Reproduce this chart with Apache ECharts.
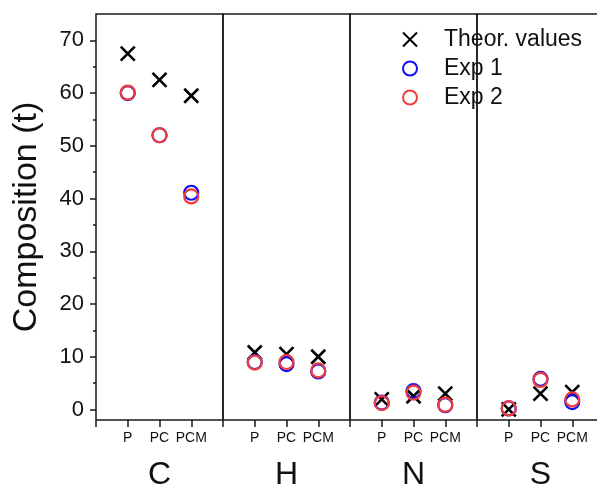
<!DOCTYPE html>
<html>
<head>
<meta charset="utf-8">
<script src="https://cdn.jsdelivr.net/npm/echarts@6/dist/echarts.min.js"></script>
<style>
html,body{margin:0;padding:0;background:#fff;}
#chart{width:597px;height:488px;}
</style>
</head>
<body>
<div id="chart"></div>
<script>
// ---- data ----
const panels = ['C', 'H', 'N', 'S'];
const categories = ['P', 'PC', 'PCM'];
const theorC = [67.5, 62.5, 59.5];
const theorH = [10.8, 10.5, 10.0];
const theorN = [1.9, 2.5, 3.0];
const theorS = [0.0, 3.0, 3.3];
const exp1C = [60.0, 52.0, 41.1];
const exp1H = [9.0, 8.6, 7.2];
const exp1N = [1.3, 3.5, 0.8];
const exp1S = [0.2, 5.8, 1.4];
const exp2C = [60.1, 52.0, 40.4];
const exp2H = [8.9, 9.0, 7.4];
const exp2N = [1.2, 3.2, 0.9];
const exp2S = [0.2, 5.6, 1.9];
const yTicks = [0, 10, 20, 30, 40, 50, 60, 70];
const yMinorTicks = [5, 15, 25, 35, 45, 55, 65];

const theor = [theorC, theorH, theorN, theorS];
const exp1 = [exp1C, exp1H, exp1N, exp1S];
const exp2 = [exp2C, exp2H, exp2N, exp2S];

const FONT = 'Liberation Sans, Arial, sans-serif';
const AX = '#1a1a1a';
const crossPath = 'path://M0,0L10,10M10,0L0,10';

const left0 = 96, panelW = 127, top0 = 14, plotH = 406;
const yMin = -2, yMax = 75;

const grids = [], xAxes = [], yAxes = [], series = [];
panels.forEach((p, g) => {
  grids.push({
    left: left0 + panelW * g, top: top0, width: panelW, height: plotH,
    outerBoundsMode: 'none', containLabel: false,
    show: true, borderColor: AX, borderWidth: 1.5, backgroundColor: 'transparent'
  });
  xAxes.push({
    type: 'category', gridIndex: g, boundaryGap: false, position: 'bottom',
    data: [''].concat(categories, ['']),
    axisLine: { show: false, onZero: false },
    axisTick: { show: true, length: 7, interval: 0, lineStyle: { color: AX, width: 1.5 } },
    axisLabel: { interval: 0, margin: 11, fontSize: 14, color: '#111', fontFamily: FONT },
    splitLine: { show: false },
    name: p, nameLocation: 'middle', nameGap: 39,
    nameTextStyle: { fontSize: 32, color: '#111', fontFamily: FONT }
  });
  yAxes.push({
    type: 'value', gridIndex: g, min: yMin, max: yMax, position: 'left',
    axisLine: { show: false, onZero: false },
    axisTick: { show: g === 0, inside: false, length: 6, customValues: yTicks, lineStyle: { color: AX, width: 1.5 } },
    axisLabel: { show: g === 0, customValues: yTicks, margin: 12, fontSize: 22, color: '#111', fontFamily: FONT },
    splitLine: { show: false },
    name: g === 0 ? 'Composition (t)' : '', nameLocation: 'middle', nameGap: 52,
    nameTextStyle: { fontSize: 34, color: '#111', fontFamily: FONT }
  });
  const mk = (vals) => categories.map((c, i) => [c, vals[i]]);
  series.push({
    name: 'Theor. values', type: 'scatter', xAxisIndex: g, yAxisIndex: g,
    symbol: crossPath, symbolSize: 14, data: mk(theor[g]),
    itemStyle: { color: 'transparent', borderColor: '#000', borderWidth: 2.6, opacity: 1 },
    emphasis: { disabled: true }, z: 2
  });
  series.push({
    name: 'Exp 1', type: 'scatter', xAxisIndex: g, yAxisIndex: g,
    symbol: 'circle', symbolSize: 14, data: mk(exp1[g]),
    itemStyle: { color: 'transparent', borderColor: '#1010f0', borderWidth: 2.2, opacity: 1 },
    emphasis: { disabled: true }, z: 3
  });
  series.push({
    name: 'Exp 2', type: 'scatter', xAxisIndex: g, yAxisIndex: g,
    symbol: 'circle', symbolSize: 14, data: mk(exp2[g]),
    itemStyle: { color: 'transparent', borderColor: '#f03c3c', borderWidth: 2.2, opacity: 1 },
    emphasis: { disabled: true }, z: 4
  });
});
// minor ticks on first panel
yAxes.push({
  type: 'value', gridIndex: 0, min: yMin, max: yMax, position: 'left',
  axisLine: { show: false, onZero: false },
  axisTick: { show: true, length: 3, customValues: yMinorTicks, lineStyle: { color: AX, width: 1.5 } },
  axisLabel: { show: false }, splitLine: { show: false }
});

const chart = echarts.init(document.getElementById('chart'), null, { renderer: 'canvas' });
chart.setOption({
  animation: false,
  backgroundColor: '#fff',
  grid: grids, xAxis: xAxes, yAxis: yAxes, series: series,
  legend: {
    data: ['Theor. values', 'Exp 1', 'Exp 2'],
    orient: 'vertical', left: 397, top: 23,
    itemWidth: 58, itemHeight: 14, itemGap: 6,
    symbolKeepAspect: true,
    textStyle: { fontSize: 23, color: '#111', fontFamily: FONT },
    selectedMode: false
  }
});
</script>
</body>
</html>
